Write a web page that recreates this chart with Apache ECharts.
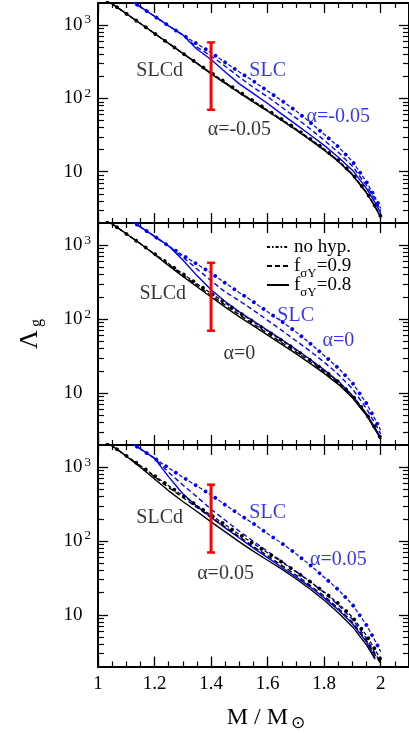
<!DOCTYPE html>
<html><head><meta charset="utf-8">
<script src="https://cdn.jsdelivr.net/npm/echarts@6/dist/echarts.min.js"></script>
<style>html,body{margin:0;padding:0;background:#fff}#c{width:409px;height:733px}</style>
</head><body><div id="c"></div>
<script>
// ---------- data ----------
const masses = [1.00,1.05,1.10,1.15,1.20,1.25,1.30,1.35,1.40,1.45,1.50,1.55,1.60,1.65,1.70,1.75,1.80,1.85,1.90,1.95,1.98,2.00];
// no-hyperon curves (same in all panels)
const slcdNoHyp = [2690,1950,1430,1050,767,562,412,302,224,166,123,92.3,69.2,51.9,38.5,28.2,20.4,14.3,9.33,5.25,3.39,2.45];
const slcNoHyp  = [4270,3160,2370,1770,1320,977,733,556,422,309,229,172,126,93.3,67.6,47.3,32.4,21.9,13.8,7.24,4.47,3.16];
// alpha = -0.05
const slcdF09_a1 = [2690,1950,1430,1050,767,562,412,302,220,163,121,90.6,67.9,50.9,37.8,27.7,20.0,14.1,9.18,5.19,3.35,2.43];
const slcdF08_a1 = [2690,1950,1430,1050,767,562,412,300,216,160,119,89.1,66.8,50.1,37.2,27.2,19.7,13.8,9.02,5.13,3.31,2.40];
const slcF09_a1  = [4270,3160,2370,1770,1320,977,733,501,380,275,195,141,105,75.9,54.3,38.5,26.9,18.4,11.9,6.46,4.17,2.95];
const slcF08_a1  = [4270,3160,2370,1770,1320,977,733,468,339,229,158,116,85.1,61.0,44.2,32.0,22.9,15.8,10.5,5.89,3.80,2.75];
// alpha = 0
const slcdF09_a2 = [2690,1950,1430,1050,759,550,398,288,211,155,115,86.1,64.6,48.4,36.3,26.9,19.5,13.8,9.02,5.13,3.31,2.43];
const slcdF08_a2 = [2690,1950,1430,1050,750,531,380,275,200,146,108,81.3,61.0,45.7,34.3,25.4,18.6,13.2,8.71,5.01,3.24,2.40];
const slcF09_a2  = [4270,3160,2370,1770,1320,977,692,479,331,234,178,132,96.6,70.8,51.3,37.2,26.3,18.0,11.5,6.17,3.89,2.82];
const slcF08_a2  = [4270,3160,2370,1770,1320,977,631,389,251,174,126,94.4,70.8,53.1,39.4,28.8,20.7,14.5,9.33,5.25,3.39,2.51];
// alpha = 0.05
const slcdF09_a3 = [2690,1950,1430,1040,741,531,389,285,209,155,114,84.1,63.1,46.8,34.7,25.1,18.0,12.3,7.94,4.47,2.88,2.19];
const slcdF08_a3 = [2750,1950,1410,1000,692,479,343,251,182,133,97.7,72.4,55.0,41.7,30.9,22.4,15.8,10.7,6.92,3.89,2.51,null];
const slcF09_a3  = [4270,3160,2370,1770,1320,851,575,398,269,191,136,98.9,72.4,53.1,38.9,28.2,20.0,13.6,8.71,4.79,3.02,2.24];
const slcF08_a3  = [4270,3160,2370,1770,1320,741,437,295,209,151,110,80.4,59.6,44.2,32.7,24.0,17.0,11.7,7.59,4.27,2.63,null];
// GW170817 constraint at 1.4 Msun
const errMass = 1.4;
const errLow = 70;
const errHigh = 580;
// axes
const xMajorTicks = [1, 1.2, 1.4, 1.6, 1.8, 2];
const xMinorTicks = [1.05,1.1,1.15,1.25,1.3,1.35,1.45,1.5,1.55,1.65,1.7,1.75,1.85,1.9,1.95,2.05];
const yMajorTicks = [10, 100, 1000];
const yMinorTicks = [3,4,5,6,7,8,9,20,30,40,50,60,70,80,90,200,300,400,500,600,700,800,900];
// annotations per panel
const annotText = [['SLCd','SLC','α=-0.05','α=-0.05'],['SLCd','SLC','α=0','α=0'],['SLCd','SLC','α=0.05','α=0.05']];
const annotMass = [[1.218,1.60,1.85,1.50],[1.229,1.699,1.85,1.50],[1.218,1.60,1.85,1.451]];
const annotLambda = [[236,236,55.7,37],[223,112,51,34],[207,241,56,36]];
const annotIsBlue = [false,true,true,false];
const legendNames = ['no hyp.','fσY=0.9','fσY=0.8'];

// ---------- chart ----------
const FONT = "'Liberation Serif','DejaVu Serif',serif";
const BLUE = '#0000ff', BLACK = '#000000', RED = '#ff0000';
const panelCurves = [
  {slcdF09: slcdF09_a1, slcdF08: slcdF08_a1, slcF09: slcF09_a1, slcF08: slcF08_a1},
  {slcdF09: slcdF09_a2, slcdF08: slcdF08_a2, slcF09: slcF09_a2, slcF08: slcF08_a2},
  {slcdF09: slcdF09_a3, slcdF08: slcdF08_a3, slcF09: slcF09_a3, slcF08: slcF08_a3}
];
const gridBoxes = [{top:3,height:220},{top:223,height:222},{top:445,height:222}];

function pairs(arr){ return masses.map((m,k)=>[m, arr[k]]); }

const grid = gridBoxes.map(g=>({left:98, width:312, top:g.top, height:g.height}));
const xAxis = [], yAxis = [], series = [];

const supRich = {
  b:{fontSize:19, fontFamily:FONT, color:BLACK, lineHeight:20},
  s:{fontSize:13, fontFamily:FONT, color:BLACK, lineHeight:13, padding:[0,0,10,2]},
  h:{fontSize:13, fontFamily:FONT, color:'rgba(0,0,0,0)', lineHeight:13, padding:[0,0,10,2]}
};

gridBoxes.forEach((g,i)=>{
  const last = i===2;
  const xbase = {type:'value', gridIndex:i, min:1, max:2.1, splitLine:{show:false}, axisLabel:{show:false}};
  xAxis.push(Object.assign({}, xbase, {
    position:'bottom',
    axisLine:{show:true, onZero:false, lineStyle:{color:BLACK, width:2}},
    axisTick:{show:true, inside:true, length:10, customValues:xMajorTicks, lineStyle:{color:BLACK, width:1.3}},
    axisLabel: last ? {show:true, customValues:xMajorTicks, margin:8, fontSize:19, fontFamily:FONT, color:BLACK, formatter:v=>String(v)} : {show:false},
    name: last ? '{m|M / M}{o|⊙}' : '',
    nameLocation:'middle', nameGap:39,
    nameTextStyle:{padding:[0,0,0,25], rich:{m:{fontSize:24, fontFamily:FONT, color:BLACK, lineHeight:24}, o:{fontSize:17, fontFamily:"'DejaVu Sans',sans-serif", color:BLACK, lineHeight:17, padding:[12,0,0,3]}}}
  }));
  xAxis.push(Object.assign({}, xbase, {position:'bottom', axisLine:{show:false, onZero:false},
    axisTick:{show:true, inside:true, length:5, customValues:xMinorTicks, lineStyle:{color:BLACK, width:1.2}}}));
  xAxis.push(Object.assign({}, xbase, {position:'top',
    axisLine:{show:true, onZero:false, lineStyle:{color:BLACK, width:2}},
    axisTick:{show:true, inside:true, length:10, customValues:xMajorTicks, lineStyle:{color:BLACK, width:1.3}}}));
  xAxis.push(Object.assign({}, xbase, {position:'top', axisLine:{show:false, onZero:false},
    axisTick:{show:true, inside:true, length:5, customValues:xMinorTicks, lineStyle:{color:BLACK, width:1.2}}}));

  const ybase = {type:'log', logBase:10, gridIndex:i, min:2, max:2000, splitLine:{show:false}, axisLabel:{show:false}};
  yAxis.push(Object.assign({}, ybase, {
    position:'left',
    axisLine:{show:true, onZero:false, lineStyle:{color:BLACK, width:2}},
    axisTick:{show:true, inside:true, length:10, customValues:yMajorTicks, lineStyle:{color:BLACK, width:1.3}},
    axisLabel:{show:true, customValues:yMajorTicks, margin:7, rich:supRich,
      formatter:v=> v<50 ? '{b|10}{h|3}' : (v<500 ? '{b|10}{s|2}' : '{b|10}{s|3}')},
    name: i===1 ? '{L|Λ}{g|g}' : '',
    nameLocation:'middle', nameRotate:90, nameGap:55,
    nameTextStyle:{rich:{L:{fontSize:26, fontFamily:FONT, color:BLACK, lineHeight:26}, g:{fontSize:16, fontFamily:FONT, color:BLACK, lineHeight:16, padding:[14,0,0,3]}}}
  }));
  yAxis.push(Object.assign({}, ybase, {position:'left', axisLine:{show:false, onZero:false},
    axisTick:{show:true, inside:true, length:6, customValues:yMinorTicks, lineStyle:{color:BLACK, width:1.2}}}));
  yAxis.push(Object.assign({}, ybase, {position:'right',
    axisLine:{show:true, onZero:false, lineStyle:{color:BLACK, width:2}},
    axisTick:{show:true, inside:true, length:10, customValues:yMajorTicks, lineStyle:{color:BLACK, width:1.3}}}));
  yAxis.push(Object.assign({}, ybase, {position:'right', axisLine:{show:false, onZero:false},
    axisTick:{show:true, inside:true, length:6, customValues:yMinorTicks, lineStyle:{color:BLACK, width:1.2}}}));

  const xi = 4*i, yi = 4*i;
  const c = panelCurves[i];
  const mk = (name, arr, color, kind) => {
    const s = {type:'line', name, xAxisIndex:xi, yAxisIndex:yi, data:pairs(arr), symbol:'none', silent:true, clip:true, z:2,
      itemStyle:{color}};
    if (kind==='solid') s.lineStyle = {color, width:1.4};
    else if (kind==='dash') s.lineStyle = {color, width:1.4, type:[5,3]};
    else if (kind==='thin') s.lineStyle = {color, width:1.2, type:[4,7.7], dashOffset:7.85};
    else if (kind==='dots') s.lineStyle = {color, width:3.8, type:[0.01,11.69], cap:'round'};
    return s;
  };
  if (i===1) {
    // legend sample series (no data)
    series.push({type:'line', name:legendNames[0], xAxisIndex:xi, yAxisIndex:yi, data:[], symbol:'none',
      itemStyle:{color:BLACK}, lineStyle:{color:BLACK, width:1.8, type:[3,2,1.6,2]}});
  }
  series.push(mk('SLC f08 '+i, c.slcF08, BLUE, 'solid'));
  series.push(mk('SLC f09 '+i, c.slcF09, BLUE, 'dash'));
  series.push(mk('SLC nohyp '+i, slcNoHyp, BLUE, 'thin'));
  series.push(mk('SLC nohyp dots '+i, slcNoHyp, BLUE, 'dots'));
  series.push(mk(i===1 ? legendNames[2] : 'SLCd f08 '+i, c.slcdF08, BLACK, 'solid'));
  series.push(mk(i===1 ? legendNames[1] : 'SLCd f09 '+i, c.slcdF09, BLACK, 'dash'));
  series.push(mk('SLCd nohyp '+i, slcdNoHyp, BLACK, 'thin'));
  series.push(mk('SLCd nohyp dots '+i, slcdNoHyp, BLACK, 'dots'));
  series.push({type:'scatter', name:'labels '+i, xAxisIndex:xi, yAxisIndex:yi, silent:true, symbolSize:1,
    itemStyle:{color:'rgba(0,0,0,0)'},
    data: annotText[i].map((t,k)=>({value:[annotMass[i][k], annotLambda[i][k]], name:t,
      label:{color: annotIsBlue[k] ? BLUE : BLACK}})),
    label:{show:true, position:'inside', formatter:p=>p.name, fontSize:20, fontFamily:FONT}, z:5});
  series.push({type:'line', name:'GW170817 '+i, xAxisIndex:xi, yAxisIndex:yi, silent:true,
    data:[[errMass, errLow],[errMass, errHigh]], symbol:'rect', symbolSize:[8,2.5], showSymbol:true,
    itemStyle:{color:RED}, lineStyle:{color:RED, width:3}, z:6});
});

const legendRich = {
  t:{fontSize:19, fontFamily:FONT, color:BLACK, lineHeight:20},
  s:{fontSize:13, fontFamily:FONT, color:BLACK, lineHeight:13, padding:[15,0,0,0]}
};
const option = {
  animation:false,
  backgroundColor:'#ffffff',
  grid, xAxis, yAxis, series,
  legend:{show:true, orient:'vertical', left:266, top:233, itemWidth:22, itemHeight:10, itemGap:-9,
    selectedMode:false, padding:0, data:legendNames,
    itemStyle:{opacity:0},
    textStyle:{rich:legendRich},
    formatter:n=> n==='no hyp.' ? '{t|no hyp.}{s| }' : (n==='fσY=0.9' ? '{t|f}{s|σY}{t|=0.9}' : '{t|f}{s|σY}{t|=0.8}')}
};
const chart = echarts.init(document.getElementById('c'), null, {renderer:'canvas'});
chart.setOption(option);
</script></body></html>
